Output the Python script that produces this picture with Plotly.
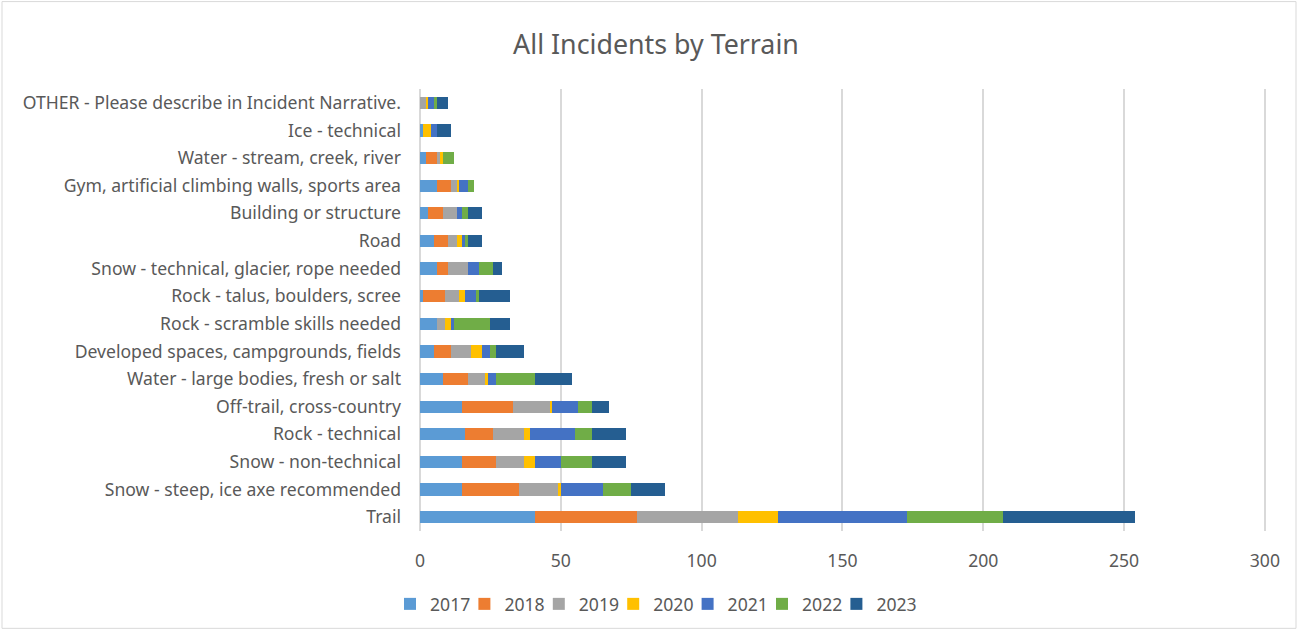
import plotly.graph_objects as go

# terrain categories, bottom to top
terrain = [
    'Trail',
    'Snow - steep, ice axe recommended',
    'Snow - non-technical',
    'Rock - technical',
    'Off-trail, cross-country',
    'Water - large bodies, fresh or salt',
    'Developed spaces, campgrounds, fields',
    'Rock - scramble skills needed',
    'Rock - talus, boulders, scree',
    'Snow - technical, glacier, rope needed',
    'Road',
    'Building or structure',
    'Gym, artificial climbing walls, sports area',
    'Water - stream, creek, river',
    'Ice - technical',
    'OTHER - Please describe in Incident Narrative.',
]

y2017 = [41, 15, 15, 16, 15, 8, 5, 6, 1, 6, 5, 3, 6, 2, 1, 0]
y2018 = [36, 20, 12, 10, 18, 9, 6, 0, 8, 4, 5, 5, 5, 4, 0, 0]
y2019 = [36, 14, 10, 11, 13, 6, 7, 3, 5, 7, 3, 5, 2, 1, 0, 2]
y2020 = [14, 1, 4, 2, 1, 1, 4, 2, 2, 0, 2, 0, 1, 1, 3, 1]
y2021 = [46, 15, 9, 16, 9, 3, 3, 1, 4, 4, 1, 2, 3, 0, 2, 2]
y2022 = [34, 10, 11, 6, 5, 14, 2, 13, 1, 5, 1, 2, 2, 4, 0, 1]
y2023 = [47, 12, 12, 12, 6, 13, 10, 7, 11, 3, 5, 5, 0, 0, 5, 4]

years = ['2017', '2018', '2019', '2020', '2021', '2022', '2023']
series = [y2017, y2018, y2019, y2020, y2021, y2022, y2023]
colors = ['#5B9BD5', '#ED7D31', '#A5A5A5', '#FFC000', '#4472C4', '#70AD47', '#255E91']

fig = go.Figure()
for name, vals, col in zip(years, series, colors):
    fig.add_trace(go.Bar(
        y=terrain, x=vals, name=name, orientation='h',
        marker=dict(color=col, line=dict(width=0)),
    ))
# empty legend slot so the last label isn't clipped
fig.add_trace(go.Bar(y=[terrain[0]], x=[0], name=' ', orientation='h',
                     marker=dict(color='rgba(0,0,0,0)', line=dict(width=0, color='rgba(0,0,0,0)')),
                     hoverinfo='skip'))

fig.update_layout(
    barmode='stack',
    bargap=0.56,
    width=1298, height=634,
    paper_bgcolor='white', plot_bgcolor='white',
    font=dict(family='Noto Sans', size=17.6, color='#595959'),
    title=dict(text='All Incidents by Terrain', x=656 / 1298, xanchor='center',
               y=1 - 45 / 634, yanchor='middle',
               font=dict(size=26.8, color='#595959')),
    margin=dict(l=420, r=32, t=89, b=100),
    legend=dict(orientation='h', x=-30 / 846, xanchor='left', y=-0.165, yanchor='middle',
                font=dict(size=17.6, color='#595959'), traceorder='normal',
                entrywidth=29.4, entrywidthmode='pixels'),
    showlegend=True,
)
fig.update_xaxes(range=[0, 300.4], dtick=50, showgrid=True, gridcolor='#D9D9D9', gridwidth=1.5,
                 zeroline=True, zerolinecolor='#D9D9D9', zerolinewidth=1.5,
                 tickfont=dict(size=17.6, color='#595959'), ticks='', showline=False,
                 ticklabelstandoff=17)
fig.update_yaxes(showgrid=False, ticks='', tickfont=dict(size=17.6, color='#595959'),
                 showline=False, automargin=False, ticklabelstandoff=18)
# thin frame around the whole chart
fig.add_shape(type='rect', xref='paper', yref='paper', x0=-418 / 846, x1=1 + 30 / 846,
              y0=-98 / 445, y1=1 + 88 / 445, line=dict(color='#D9D9D9', width=1))

# drop the default body margin so the figure fills the window exactly
fig.write_html("out.html", config={'displayModeBar': False},
               post_script="document.body.style.margin='0';document.body.style.overflow='hidden';")
